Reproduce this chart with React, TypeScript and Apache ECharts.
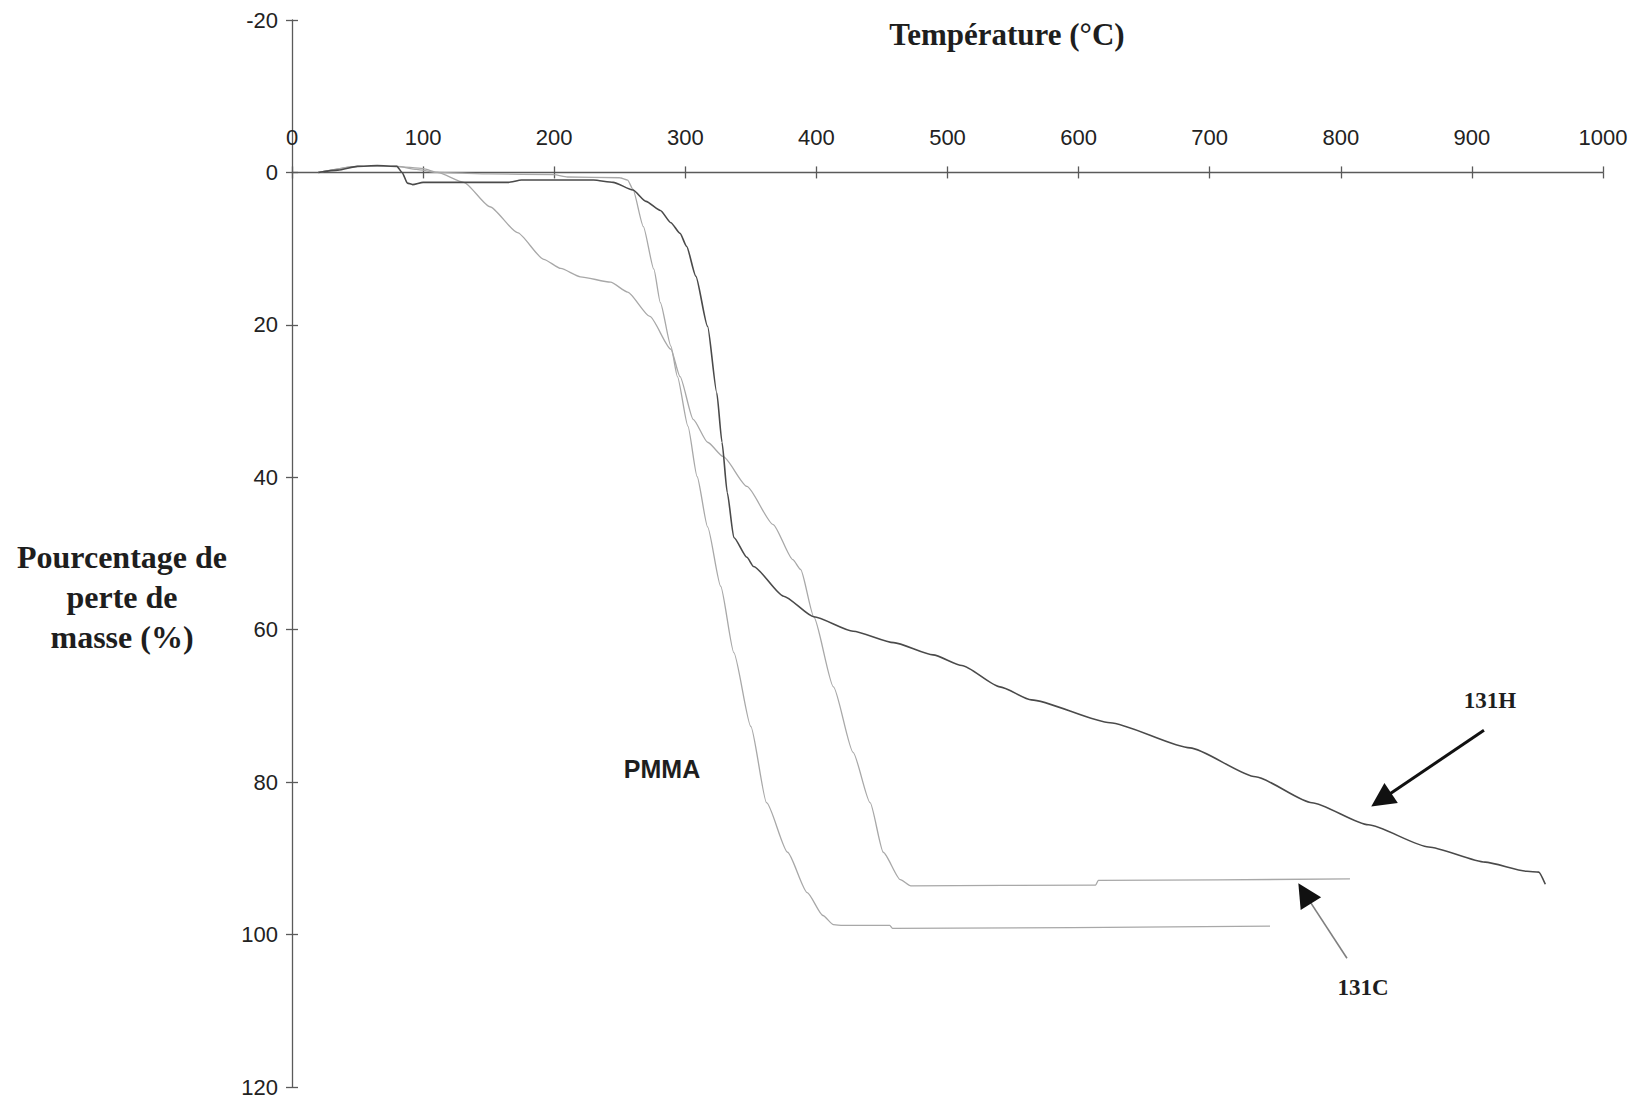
import React, { useEffect, useRef } from "react";
import * as echarts from "echarts";

// Temperature (°C) and mass-loss (%) readings for each sample
const pmmaTemp = [20, 50, 80, 95, 110, 150, 200, 210, 250, 256, 260, 268, 276, 281, 289, 294, 302, 309, 317, 327, 337, 350, 362, 378, 393, 405, 413, 420, 456, 458, 746];
const pmmaLoss = [0, -0.8, -0.8, -0.4, 0, 0.2, 0.3, 0.6, 0.7, 1.0, 2.2, 7.1, 12.7, 17.1, 22.8, 26.8, 33.3, 39.9, 46.5, 54.3, 63.0, 72.7, 82.7, 89.2, 94.5, 97.5, 98.7, 98.8, 98.8, 99.2, 98.9];

const s131HTemp = [20, 35, 50, 65, 80, 84, 88, 92, 100, 130, 165, 175, 200, 230, 245, 260, 270, 281, 289, 296, 301, 308, 317, 324, 328, 332, 337, 347, 352, 375, 398, 428, 459, 489, 511, 540, 564, 624, 685, 735, 778, 821, 867, 910, 942, 951, 956];
const s131HLoss = [0, -0.3, -0.8, -0.9, -0.8, 0, 1.4, 1.6, 1.3, 1.3, 1.3, 1.0, 1.0, 1.0, 1.3, 2.3, 3.8, 5.0, 6.6, 8.0, 9.7, 13.6, 20.2, 28.9, 35.4, 42.0, 47.9, 50.5, 51.7, 55.6, 58.3, 60.2, 61.7, 63.3, 64.7, 67.5, 69.2, 72.2, 75.5, 79.3, 82.7, 85.6, 88.5, 90.5, 91.7, 91.8, 93.4];

const s131CTemp = [20, 50, 80, 100, 111, 131, 151, 172, 192, 205, 220, 243, 256, 273, 289, 296, 306, 317, 329, 347, 367, 382, 388, 398, 413, 428, 441, 451, 464, 472, 613, 615, 807];
const s131CLoss = [0, -0.8, -0.8, -0.5, 0, 1.3, 4.5, 7.9, 11.4, 12.6, 13.7, 14.4, 15.7, 18.9, 23.2, 26.8, 32.4, 35.4, 37.3, 41.2, 46.2, 50.8, 52.1, 58.3, 67.5, 76.1, 82.7, 89.2, 92.8, 93.6, 93.5, 92.9, 92.7];

// Annotation arrows (tail -> head) in data units
const arrow131H = [[909.2, 73.2], [830.8, 82.3]];
const arrow131C = [[804.7, 103.1], [772.4, 94.6]];
const arrow131CHead = [[774.9, 95.3], [772.4, 94.6]];

const xMin = 0, xMax = 1000, xStep = 100;
const yMin = -20, yMax = 120, yStep = 20;

const zip = (a: number[], b: number[]) => a.map((v, i) => [v, b[i]]);

const axisColor = "#5a5a5a";
const labelFont = { fontSize: 22, fontFamily: "Liberation Sans", color: "#222" };

const gridTop = 20;
const gridHeight = 1067;

export default function App() {
  const ref = useRef<HTMLDivElement>(null);
  useEffect(() => {
    if (!ref.current) return;
    const chart = echarts.init(ref.current, undefined, { renderer: "svg" });
    // move the top x axis down onto the y = 0 line
    const zeroOffset = -((0 - yMin) / (yMax - yMin)) * gridHeight;
    const baseX = {
      type: "value",
      min: xMin,
      max: xMax,
      interval: xStep,
      position: "top",
      offset: zeroOffset,
      splitLine: { show: false },
    };
    const baseY = {
      type: "value",
      min: yMin,
      max: yMax,
      interval: yStep,
      inverse: true,
      position: "left",
      splitLine: { show: false },
    };
    chart.setOption({
      animation: false,
      backgroundColor: "#ffffff",
      grid: {
        left: 292,
        top: gridTop,
        width: 1311,
        height: gridHeight,
        containLabel: false,
        outerBoundsMode: "none",
      },
      xAxis: [
        {
          ...baseX,
          axisLine: { show: true, onZero: false, lineStyle: { color: axisColor, width: 1.3 } },
          axisTick: { show: true, length: 6, lineStyle: { color: axisColor, width: 1.3 } },
          axisLabel: { ...labelFont, margin: 24, formatter: (v: number) => String(v) },
        },
        {
          ...baseX,
          axisLine: { show: false, onZero: false },
          axisTick: { show: true, inside: true, length: 6, lineStyle: { color: axisColor, width: 1.3 } },
          axisLabel: { show: false },
        },
      ],
      yAxis: [
        {
          ...baseY,
          axisLine: { show: true, onZero: false, lineStyle: { color: axisColor, width: 1.3 } },
          axisTick: { show: true, length: 6, lineStyle: { color: axisColor, width: 1.3 } },
          axisLabel: { ...labelFont, margin: 14 },
        },
        {
          ...baseY,
          axisLine: { show: false, onZero: false },
          axisTick: { show: true, inside: true, length: 6, lineStyle: { color: axisColor, width: 1.3 } },
          axisLabel: { show: false },
        },
      ],
      series: [
        {
          name: "PMMA",
          type: "line",
          showSymbol: false,
          smooth: 0.2,
          smoothMonotone: "x",
          data: zip(pmmaTemp, pmmaLoss),
          lineStyle: { color: "#a8a8a8", width: 1.3 },
          z: 2,
        },
        {
          name: "131C",
          type: "line",
          showSymbol: false,
          smooth: 0.2,
          smoothMonotone: "x",
          data: zip(s131CTemp, s131CLoss),
          lineStyle: { color: "#a8a8a8", width: 1.3 },
          z: 2,
          markLine: {
            silent: true,
            label: { show: false },
            data: [
              [
                { coord: arrow131C[0], symbol: "none" },
                { coord: arrow131C[1], symbol: "none" },
              ],
            ],
            lineStyle: { color: "#808080", width: 1.6, type: "solid" },
          },
        },
        {
          name: "131H",
          type: "line",
          showSymbol: false,
          smooth: 0.2,
          smoothMonotone: "x",
          data: zip(s131HTemp, s131HLoss),
          lineStyle: { color: "#4a4a4a", width: 1.6 },
          z: 3,
          markLine: {
            silent: true,
            label: { show: false },
            data: [
              [
                { coord: arrow131H[0], symbol: "none" },
                { coord: arrow131H[1], symbol: "triangle", symbolSize: 24 },
              ],
              [
                { coord: arrow131CHead[0], symbol: "none", lineStyle: { color: "#111", width: 1 } },
                { coord: arrow131CHead[1], symbol: "triangle", symbolSize: 24 },
              ],
            ],
            lineStyle: { color: "#111", width: 3, type: "solid" },
          },
        },
      ],
      graphic: [
        {
          type: "text",
          x: 1007,
          y: 34,
          style: {
            text: "Température (°C)",
            font: 'bold 31px "Liberation Serif"',
            fill: "#1e1e1e",
            textAlign: "center",
            textVerticalAlign: "middle",
            align: "center",
            verticalAlign: "middle",
          },
        },
        {
          type: "text",
          x: 122,
          y: 597,
          style: {
            text: "Pourcentage de\nperte de\nmasse (%)",
            font: 'bold 32px "Liberation Serif"',
            lineHeight: 40,
            fill: "#1e1e1e",
            textAlign: "center",
            textVerticalAlign: "middle",
            align: "center",
            verticalAlign: "middle",
          },
        },
        {
          type: "text",
          x: 662,
          y: 769,
          style: {
            text: "PMMA",
            font: 'bold 25px "Liberation Sans"',
            fill: "#1e1e1e",
            textAlign: "center",
            textVerticalAlign: "middle",
            align: "center",
            verticalAlign: "middle",
          },
        },
        {
          type: "text",
          x: 1490,
          y: 700,
          style: {
            text: "131H",
            font: 'bold 23px "Liberation Serif"',
            fill: "#1e1e1e",
            textAlign: "center",
            textVerticalAlign: "middle",
            align: "center",
            verticalAlign: "middle",
          },
        },
        {
          type: "text",
          x: 1363,
          y: 987,
          style: {
            text: "131C",
            font: 'bold 23px "Liberation Serif"',
            fill: "#1e1e1e",
            textAlign: "center",
            textVerticalAlign: "middle",
            align: "center",
            verticalAlign: "middle",
          },
        },
      ],
    });
    return () => chart.dispose();
  }, []);
  return (
    <div
      ref={ref}
      style={{ position: "absolute", left: 0, top: 0, width: 1634, height: 1100, background: "#fff" }}
    />
  );
}
